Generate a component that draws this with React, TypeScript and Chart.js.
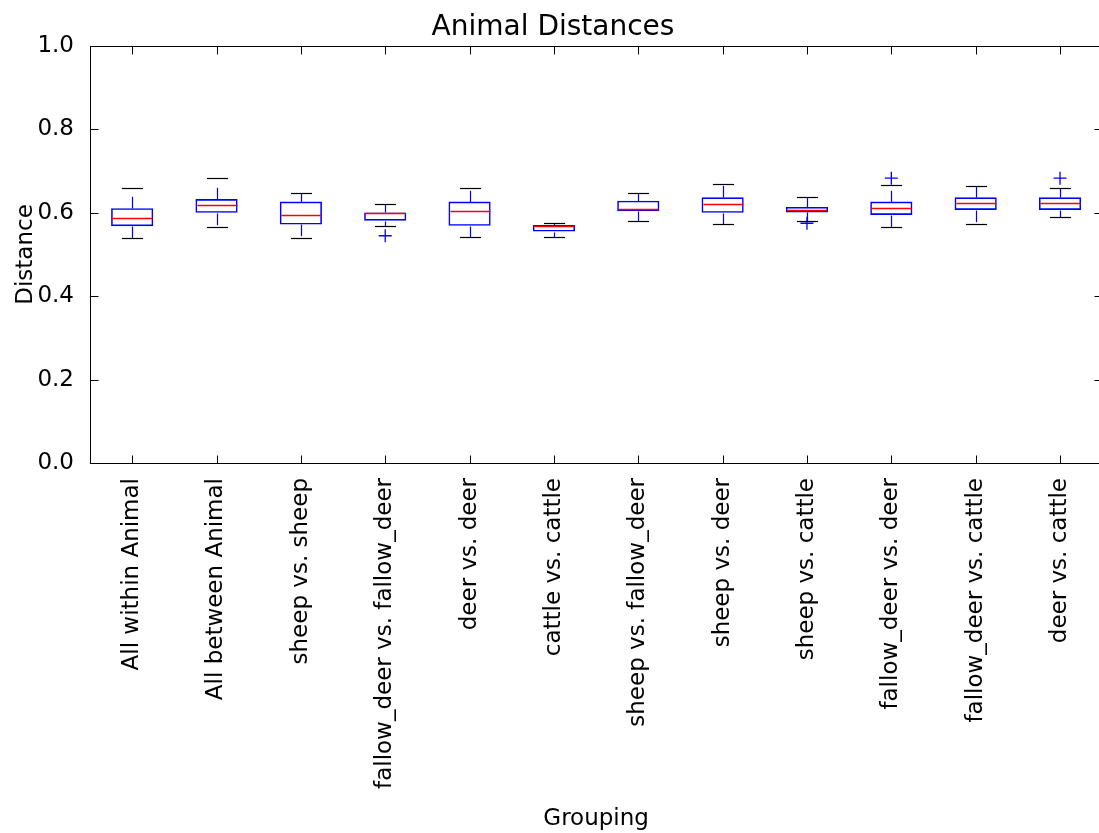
import React, { useEffect, useRef } from "react";
import { Chart, registerables } from "chart.js";

Chart.register(...registerables);

// Box-plot summary per grouping
const groups = [
  "All within Animal",
  "All between Animal",
  "sheep vs. sheep",
  "fallow_deer vs. fallow_deer",
  "deer vs. deer",
  "cattle vs. cattle",
  "sheep vs. fallow_deer",
  "sheep vs. deer",
  "sheep vs. cattle",
  "fallow_deer vs. deer",
  "fallow_deer vs. cattle",
  "deer vs. cattle",
];
const whiskerLow = [0.539, 0.566, 0.539, 0.569, 0.542, 0.542, 0.581, 0.572, 0.581, 0.566, 0.572, 0.591];
const q1 = [0.568, 0.600, 0.572, 0.581, 0.569, 0.555, 0.604, 0.600, 0.601, 0.595, 0.607, 0.607];
const median = [0.588, 0.618, 0.595, 0.599, 0.605, 0.569, 0.610, 0.621, 0.607, 0.611, 0.624, 0.624];
const q3 = [0.611, 0.633, 0.627, 0.601, 0.627, 0.571, 0.629, 0.637, 0.614, 0.627, 0.637, 0.637];
const whiskerHigh = [0.660, 0.684, 0.647, 0.621, 0.660, 0.576, 0.647, 0.669, 0.637, 0.667, 0.664, 0.660];

// Outliers: group index and value
const outlierGroup = [3, 8, 9, 11];
const outlierValue = [0.545, 0.575, 0.683, 0.683];

const yTicks = [0, 0.2, 0.4, 0.6, 0.8, 1.0];

const FONT = "'DejaVu Sans', sans-serif";
const CANVAS_W = 1110;
const CANVAS_H = 833;

// Whiskers, caps and medians around each box
const boxParts = {
  id: "boxParts",
  afterDatasetsDraw(chart: any) {
    const { ctx } = chart;
    const xs = chart.scales.x;
    const ys = chart.scales.y;
    const step = xs.getPixelForValue(1) - xs.getPixelForValue(0);
    const capHalf = step * 0.125;
    const boxHalf = step * 0.25;
    const line = (x1: number, y1: number, x2: number, y2: number) => {
      ctx.beginPath();
      ctx.moveTo(x1, y1);
      ctx.lineTo(x2, y2);
      ctx.stroke();
    };
    const py = (v: number) => Math.round(ys.getPixelForValue(v)) + 0.5;
    ctx.save();
    ctx.lineWidth = 1.2;
    groups.forEach((_, i) => {
      const cx = Math.round(xs.getPixelForValue(i)) + 0.5;
      // dashed whiskers
      ctx.strokeStyle = "#0000ff";
      ctx.lineWidth = 1.2;
      ctx.setLineDash([11.7, 11.7]);
      line(cx, py(q3[i]), cx, py(whiskerHigh[i]));
      line(cx, py(q1[i]), cx, py(whiskerLow[i]));
      ctx.setLineDash([]);
      // caps
      ctx.strokeStyle = "#000000";
      line(cx - capHalf, py(whiskerHigh[i]), cx + capHalf, py(whiskerHigh[i]));
      line(cx - capHalf, py(whiskerLow[i]), cx + capHalf, py(whiskerLow[i]));
      // median
      ctx.strokeStyle = "#ff0000";
      ctx.lineWidth = 1.6;
      line(cx - boxHalf + 1, py(median[i]), cx + boxHalf - 1, py(median[i]));
    });
    ctx.restore();
  },
};

// Axes frame with inward tick marks on all sides
const frame = {
  id: "frame",
  afterDraw(chart: any) {
    const { ctx, chartArea } = chart;
    const { left, right, top, bottom } = chartArea;
    const xs = chart.scales.x;
    const ys = chart.scales.y;
    const L = Math.round(left) + 0.5;
    const R = Math.round(right) + 0.5;
    const T = Math.round(top) + 0.5;
    const B = Math.round(bottom) + 0.5;
    const tick = 8;
    ctx.save();
    ctx.strokeStyle = "#000000";
    ctx.lineWidth = 1;
    ctx.strokeRect(L, T, R - L, B - T);
    ctx.beginPath();
    groups.forEach((_, i) => {
      const x = Math.round(xs.getPixelForValue(i)) + 0.5;
      ctx.moveTo(x, B);
      ctx.lineTo(x, B - tick);
      ctx.moveTo(x, T);
      ctx.lineTo(x, T + tick);
    });
    yTicks.forEach((v) => {
      const y = Math.round(ys.getPixelForValue(v)) + 0.5;
      ctx.moveTo(L, y);
      ctx.lineTo(L + tick, y);
      ctx.moveTo(R, y);
      ctx.lineTo(R - tick, y);
    });
    ctx.stroke();
    ctx.restore();
  },
};

export default function App() {
  const canvasRef = useRef<HTMLCanvasElement | null>(null);

  useEffect(() => {
    const canvas = canvasRef.current;
    if (!canvas) return;
    const chart = new Chart(canvas, {
      type: "bar",
      data: {
        labels: groups,
        datasets: [
          {
            type: "bar",
            data: groups.map((_, i) => [q1[i], q3[i]]) as any,
            backgroundColor: "rgba(0,0,0,0)",
            borderColor: "#0000ff",
            borderWidth: 1.6,
            borderSkipped: false,
            barPercentage: 0.5,
            categoryPercentage: 1,
            inflateAmount: 0,
          } as any,
          {
            type: "scatter",
            data: outlierGroup.map((g, k) => ({ x: groups[g], y: outlierValue[k] })) as any,
            pointStyle: "cross",
            pointRadius: 6.5,
            pointBorderWidth: 1.3,
            borderColor: "#0000ff",
            backgroundColor: "#0000ff",
          } as any,
        ],
      },
      options: {
        responsive: false,
        animation: false,
        devicePixelRatio: 1,
        layout: { padding: { left: 0, right: 4, top: 0, bottom: 0 } },
        plugins: {
          legend: { display: false },
          tooltip: { enabled: false },
          title: {
            display: true,
            text: "Animal Distances",
            color: "#000000",
            font: { family: FONT, size: 28, weight: "normal" },
            padding: { top: 11, bottom: 1.4 },
          },
        },
        scales: {
          x: {
            type: "category",
            offset: true,
            grid: { display: false },
            border: { display: false },
            ticks: {
              autoSkip: false,
              maxRotation: 90,
              minRotation: 90,
              padding: 7,
              color: "#000000",
              font: { family: FONT, size: 23 },
            },
            title: {
              display: true,
              text: "Grouping",
              color: "#000000",
              font: { family: FONT, size: 23 },
              padding: { top: 0, bottom: 0 },
            },
            afterFit(scale: any) {
              scale.height = 370;
            },
          },
          y: {
            min: 0,
            max: 1,
            grid: { display: false },
            border: { display: false },
            ticks: {
              stepSize: 0.2,
              padding: 8,
              color: "#000000",
              font: { family: FONT, size: 23 },
              callback: (v: any) => Number(v).toFixed(1),
            },
            title: {
              display: true,
              text: "Distance",
              color: "#000000",
              font: { family: FONT, size: 23 },
              padding: { top: 12, bottom: 0 },
            },
            afterFit(scale: any) {
              scale.width = 90;
            },
          },
        },
      },
      plugins: [boxParts, frame],
    });
    return () => chart.destroy();
  }, []);

  return (
    <div
      style={{
        position: "fixed",
        left: 0,
        top: 0,
        width: 1099,
        height: 833,
        overflow: "hidden",
        background: "#ffffff",
      }}
    >
      <canvas
        ref={canvasRef}
        width={CANVAS_W}
        height={CANVAS_H}
        style={{ display: "block", width: CANVAS_W, height: CANVAS_H }}
      />
    </div>
  );
}
